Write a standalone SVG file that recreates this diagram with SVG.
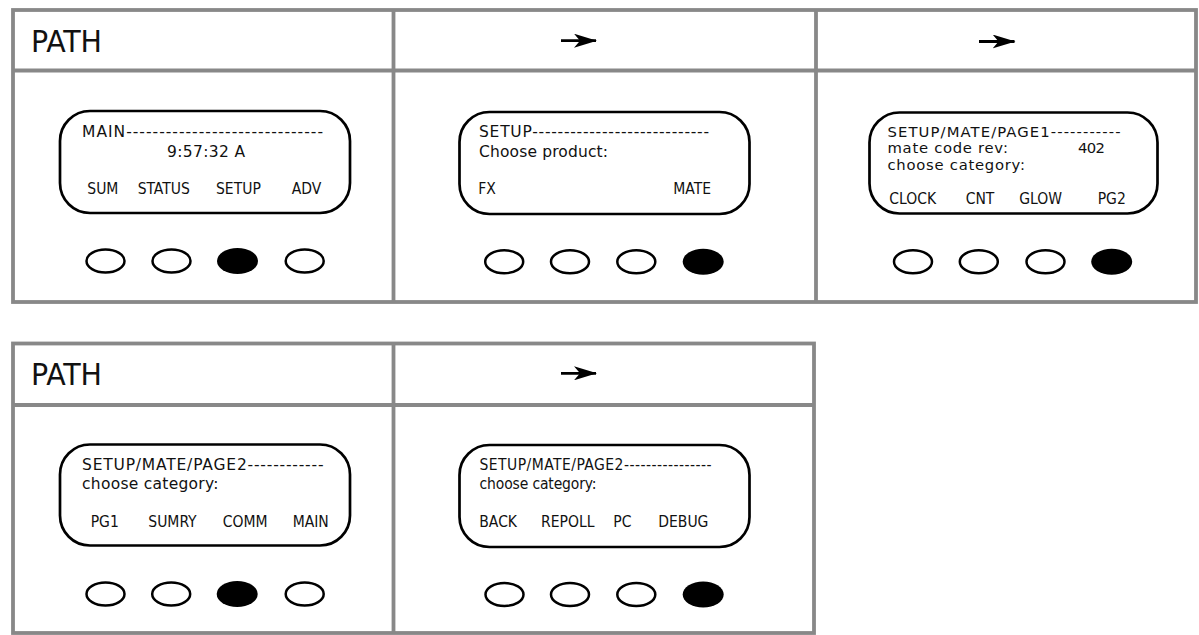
<svg xmlns="http://www.w3.org/2000/svg" width="1199" height="635" viewBox="0 0 1199 635">
<style>
.grid{fill:none;stroke:#888;stroke-width:3.8}
.lcd{fill:#fff;stroke:#000;stroke-width:2.7}
.btn{fill:#fff;stroke:#000;stroke-width:2.5}
.on{fill:#000}
.scr{font-family:"DejaVu Sans",Verdana,sans-serif;font-size:15.5px;fill:#111}
.scr3{font-family:"DejaVu Sans",Verdana,sans-serif;font-size:14.8px;fill:#111}
.lab{font-family:"DejaVu Sans Condensed","DejaVu Sans",sans-serif;font-stretch:condensed;font-size:15.5px;fill:#111}
.hdr{font-family:"DejaVu Sans Condensed","DejaVu Sans",sans-serif;font-stretch:condensed;font-size:31px;fill:#111}
.arr{stroke:#000;stroke-width:2.8;fill:none}
</style>
<defs>
<marker id="ah" viewBox="0 0 23 14" refX="22" refY="7" markerWidth="23" markerHeight="14" markerUnits="userSpaceOnUse" orient="auto">
<path d="M0,0 L23,7 L0,14 L6,7 Z" fill="#000"/>
</marker>
</defs>
<rect width="1199" height="635" fill="#fff"/>

<g id="table-top">
<rect class="grid" x="13" y="10" width="1183" height="292"/>
<line class="grid" x1="13" y1="70.5" x2="1196" y2="70.5"/>
<line class="grid" x1="393.5" y1="10" x2="393.5" y2="302"/>
<line class="grid" x1="816" y1="10" x2="816" y2="302"/>
<text class="hdr" x="31" y="52" textLength="71" lengthAdjust="spacingAndGlyphs">PATH</text>
</g>

<g id="table-bottom">
<rect class="grid" x="13" y="343.5" width="801" height="289.5"/>
<line class="grid" x1="13" y1="405" x2="814" y2="405"/>
<line class="grid" x1="393.5" y1="343.5" x2="393.5" y2="633"/>
<text class="hdr" x="31" y="384.5" textLength="71" lengthAdjust="spacingAndGlyphs">PATH</text>
</g>

<g id="connectors">
<line class="arr" x1="561" y1="40.7" x2="596" y2="40.7" marker-end="url(#ah)"/>
<line class="arr" x1="979" y1="41.5" x2="1014.5" y2="41.5" marker-end="url(#ah)"/>
<line class="arr" x1="561" y1="373.3" x2="596" y2="373.3" marker-end="url(#ah)"/>
</g>

<g id="panel-main">
<rect class="lcd" x="60" y="111" width="290" height="102" rx="30"/>
<text class="scr" x="82" y="137" textLength="241" lengthAdjust="spacing">MAIN------------------------------</text>
<text class="scr" x="167" y="156.5" textLength="78" lengthAdjust="spacing">9:57:32 A</text>
<text class="lab" x="87.3" y="194.3">SUM</text>
<text class="lab" x="137.7" y="194.3">STATUS</text>
<text class="lab" x="216" y="194.3">SETUP</text>
<text class="lab" x="291.7" y="194.3">ADV</text>
<ellipse class="btn" cx="105.5" cy="261" rx="19" ry="11.5"/>
<ellipse class="btn" cx="171.5" cy="261" rx="19" ry="11.5"/>
<ellipse class="on" cx="237.5" cy="261" rx="20.5" ry="13"/>
<ellipse class="btn" cx="304.7" cy="261" rx="19" ry="11.5"/>
</g>

<g id="panel-setup">
<rect class="lcd" x="459.5" y="112" width="290" height="102" rx="30"/>
<text class="scr" x="479" y="137" textLength="230" lengthAdjust="spacing">SETUP----------------------------</text>
<text class="scr" x="479" y="156.5" textLength="129" lengthAdjust="spacing">Choose product:</text>
<text class="lab" x="478.3" y="194.3">FX</text>
<text class="lab" x="673.3" y="194.3">MATE</text>
<ellipse class="btn" cx="504.2" cy="261.7" rx="19" ry="11.5"/>
<ellipse class="btn" cx="570" cy="261.7" rx="19" ry="11.5"/>
<ellipse class="btn" cx="636.3" cy="261.7" rx="19" ry="11.5"/>
<ellipse class="on" cx="703.2" cy="261.7" rx="20.5" ry="13"/>
</g>

<g id="panel-mate-page1">
<rect class="lcd" x="869.5" y="112.5" width="288" height="101" rx="30"/>
<text class="scr3" x="887.5" y="136.5" textLength="233" lengthAdjust="spacing">SETUP/MATE/PAGE1-----------</text>
<text class="scr3" x="887.5" y="153" textLength="120.5" lengthAdjust="spacing">mate code rev:</text>
<text class="scr3" x="1078" y="153" textLength="27" lengthAdjust="spacing">402</text>
<text class="scr3" x="887.5" y="169.5" textLength="137.5" lengthAdjust="spacing">choose category:</text>
<text class="lab" x="889.3" y="204">CLOCK</text>
<text class="lab" x="965.7" y="204">CNT</text>
<text class="lab" x="1019.3" y="204">GLOW</text>
<text class="lab" x="1097.7" y="204">PG2</text>
<ellipse class="btn" cx="913" cy="261.7" rx="19" ry="11.5"/>
<ellipse class="btn" cx="978.8" cy="261.7" rx="19" ry="11.5"/>
<ellipse class="btn" cx="1045.5" cy="261.7" rx="19" ry="11.5"/>
<ellipse class="on" cx="1111.7" cy="261.7" rx="20.5" ry="13"/>
</g>

<g id="panel-mate-page2">
<rect class="lcd" x="60" y="444.5" width="290" height="101" rx="30"/>
<text class="scr" x="82" y="470" textLength="241.5" lengthAdjust="spacing">SETUP/MATE/PAGE2------------</text>
<text class="scr" x="82" y="488.5" textLength="136.5" lengthAdjust="spacing">choose category:</text>
<text class="lab" x="90.7" y="526.7">PG1</text>
<text class="lab" x="148.3" y="526.7">SUMRY</text>
<text class="lab" x="222.7" y="526.7">COMM</text>
<text class="lab" x="292.7" y="526.7">MAIN</text>
<ellipse class="btn" cx="105.5" cy="594" rx="19" ry="11.5"/>
<ellipse class="btn" cx="171.2" cy="594" rx="19" ry="11.5"/>
<ellipse class="on" cx="237.2" cy="594" rx="20.5" ry="13"/>
<ellipse class="btn" cx="304.7" cy="594" rx="19" ry="11.5"/>
</g>

<g id="panel-mate-page2-comm">
<rect class="lcd" x="459.5" y="445" width="290" height="102" rx="30"/>
<text class="lab" x="479.5" y="470" textLength="232" lengthAdjust="spacing">SETUP/MATE/PAGE2----------------</text>
<text class="lab" x="479.5" y="488.5" textLength="117" lengthAdjust="spacing">choose category:</text>
<text class="lab" x="479.3" y="526.7">BACK</text>
<text class="lab" x="541" y="526.7">REPOLL</text>
<text class="lab" x="613.3" y="526.7">PC</text>
<text class="lab" x="658.3" y="526.7">DEBUG</text>
<ellipse class="btn" cx="504.5" cy="594.5" rx="19" ry="11.5"/>
<ellipse class="btn" cx="570" cy="594.5" rx="19" ry="11.5"/>
<ellipse class="btn" cx="636.3" cy="594.5" rx="19" ry="11.5"/>
<ellipse class="on" cx="703.2" cy="594.5" rx="20.5" ry="13"/>
</g>
</svg>
